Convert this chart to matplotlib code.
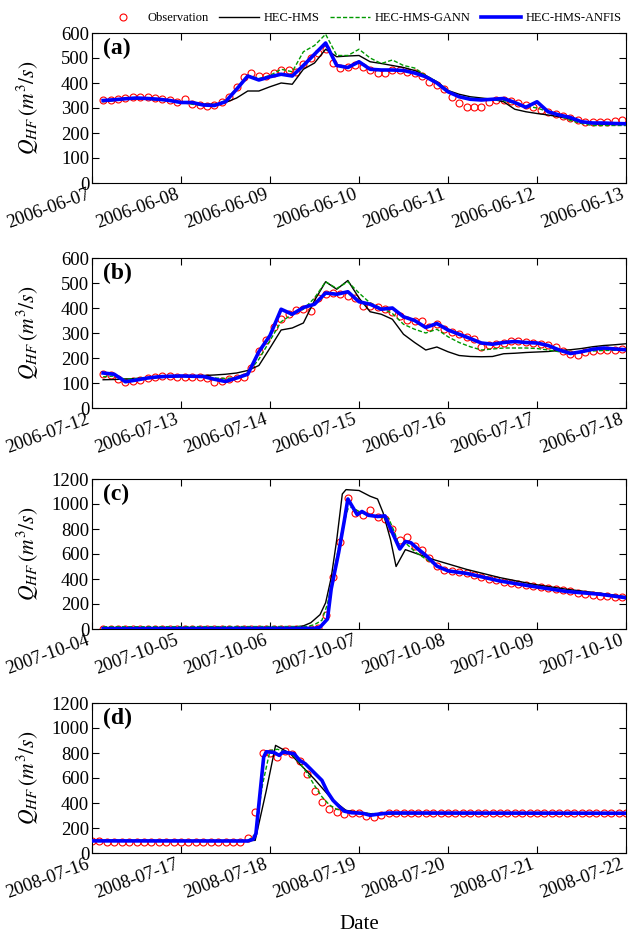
import numpy as np
import pandas as pd
import matplotlib
matplotlib.use('Agg')
import matplotlib.pyplot as plt
import matplotlib.dates as mdates

plt.rcParams['font.family'] = ['Liberation Serif', 'DejaVu Serif']
plt.rcParams['mathtext.fontset'] = 'stix'

# ---- (a) 2006-06-07 : obs every 2 h from 03:00, models every 3 h from 03:00
start_a = '2006-06-07'
obs_a = [330, 333, 336, 340, 342, 343, 342, 340, 336, 330,
         325, 335, 316, 310, 307, 310, 322, 345, 385, 425,
         438, 428, 428, 440, 450, 450, 442, 475, 500, 520,
         535, 478, 458, 462, 472, 465, 452, 440, 438, 450,
         452, 445, 438, 428, 405, 390, 375, 345, 320, 305,
         302, 303, 322, 330, 332, 328, 320, 312, 305, 290,
         282, 275, 268, 260, 250, 243, 243, 245, 245, 246,
         250]
hms_a = [325, 330, 335, 337, 336, 333, 330, 325, 320, 315,
         315, 322, 340, 368, 368, 385, 400, 395, 455, 480,
         535, 505, 508, 510, 485, 478, 470, 462, 450, 430,
         405, 370, 355, 345, 340, 335, 325, 295, 285, 278,
         272, 265, 255, 245, 237, 235, 235, 235]
gann_a = [330, 335, 338, 338, 335, 332, 328, 322, 315, 310,
          312, 330, 380, 430, 418, 430, 455, 445, 525, 550,
          595, 510, 510, 535, 500, 478, 492, 470, 460, 430,
          405, 370, 345, 340, 336, 333, 330, 318, 308, 300,
          285, 270, 250, 238, 230, 230, 230, 230]
anfis_a = [330, 333, 337, 340, 338, 335, 330, 322, 322, 312,
           310, 325, 375, 428, 412, 425, 435, 428, 470, 515,
           560, 470, 462, 485, 455, 452, 452, 450, 440, 425,
           400, 365, 345, 335, 332, 335, 338, 322, 303, 325,
           285, 272, 262, 245, 240, 240, 238, 237]

# ---- (b) 2006-07-12
start_b = '2006-07-12'
obs_b = [135, 132, 115, 103, 110, 113, 120, 125, 128, 127,
         126, 125, 125, 125, 122, 106, 108, 115, 120, 126,
         160, 230, 272, 325, 358, 376, 393, 396, 390, 440,
         455, 460, 457, 448, 440, 410, 410, 403, 395, 385,
         368, 352, 348, 347, 325, 335, 315, 305, 296, 285,
         276, 245, 252, 258, 262, 267, 268, 264, 260, 258,
         254, 245, 228, 215, 212, 225, 230, 233, 233, 234,
         236]
hms_b = [113, 114, 116, 118, 120, 122, 124, 126, 128, 130,
         132, 135, 140, 150, 170, 240, 312, 320, 340, 430,
         505, 475, 510, 440, 385, 375, 355, 295, 262, 232,
         244, 225, 210, 206, 205, 206, 217, 219, 222, 224,
         226, 230, 233, 238, 245, 250, 253, 257]
gann_b = [125, 128, 115, 118, 122, 125, 127, 127, 126, 126,
          120, 118, 122, 140, 195, 270, 345, 375, 395, 440,
          505, 478, 505, 460, 420, 400, 378, 335, 315, 300,
          315, 285, 262, 245, 232, 236, 240, 240, 240, 238,
          232, 225, 222, 225, 228, 230, 231, 231]
anfis_b = [140, 135, 105, 112, 120, 125, 127, 128, 127, 126,
           115, 106, 120, 135, 225, 290, 395, 375, 402, 415,
           460, 455, 465, 425, 415, 395, 400, 365, 350, 322,
           338, 312, 295, 278, 260, 255, 262, 266, 262, 260,
           250, 232, 218, 225, 235, 240, 236, 233]

# ---- (c) 2007-10-04 : models given as (hour, value) vertices
start_c = '2007-10-04'
obs_c = [4, 4, 4, 4, 4, 4, 4, 4, 4, 4,
         4, 4, 4, 4, 4, 4, 4, 4, 4, 4,
         4, 4, 4, 4, 4, 4, 4, 4, 4,
         10, 110, 420, 700, 1050, 930, 915, 950, 895, 878,
         800, 715, 740, 665, 630, 570, 505, 475, 465, 455,
         445, 430, 415, 400, 390, 380, 370, 362, 352, 344,
         335, 326, 318, 310, 302, 292, 284, 276, 267, 262,
         257, 253]
hms_c_h = [3, 54, 57, 59, 61.5, 63, 64.5, 66, 67.5, 68.5, 72, 75, 77, 78.5,
           80.5, 82, 84.5, 92, 101, 110, 119, 128, 137, 144]
hms_c = [10, 12, 25, 50, 115, 210, 410, 715, 1080, 1115, 1108, 1062, 1040, 930,
         715, 500, 635, 556, 477, 411, 358, 318, 286, 258]
gann_c_h = [3, 58, 60, 62, 63.5, 65.5, 67.5, 69, 70, 72, 74, 77, 80, 81.5, 83,
            84.5, 87, 90, 93, 96, 101, 110, 119, 128, 137, 144]
gann_c = [18, 20, 35, 70, 200, 500, 800, 960, 975, 940, 915, 895, 885, 780, 650,
          690, 620, 560, 505, 470, 450, 390, 345, 305, 275, 255]
anfis_c_h = [3, 60, 61.5, 63.5, 64.5, 66.5, 68, 69, 70, 71.5, 72.8, 74.5, 77, 79,
             81, 83, 84.5, 86, 87.5, 90, 93, 96, 101, 110, 119, 128, 137, 144]
anfis_c = [3, 5, 15, 80, 320, 610, 860, 1040, 990, 915, 940, 910, 900, 905,
           770, 640, 700, 690, 650, 590, 503, 465, 445, 384, 340, 300, 278, 250]

# ---- (d) 2008-07-16 : obs every 2 h from 00:00
start_d = '2008-07-16'
obs_d = [95, 93, 92, 92, 91, 91, 90, 90, 90, 90, 90, 89, 89, 89, 88, 88, 88, 88, 88, 88, 90,
         120, 330, 800, 800, 770, 815, 790, 740, 630, 500, 410, 350, 325, 315, 318, 320, 300,
         290, 305, 318,
         318, 318, 318, 318, 318, 318, 318, 318, 318, 318, 318, 318, 318, 318, 318, 318,
         318, 318, 318, 318, 318, 318, 318, 318, 318, 318, 318, 318, 318, 318, 318, 318]
hms_d_h = [0, 40, 44, 47, 49.5, 52, 53.5, 56, 60, 65, 68.5, 74, 78, 84, 144]
hms_d = [100, 98, 101, 500, 861, 820, 794, 714, 590, 421, 341, 315, 310, 315, 315]
gann_d_h = [0, 42, 44, 46, 48, 50, 52, 54, 56, 58, 60, 62, 64, 66, 68, 72, 76, 144]
gann_d = [95, 95, 150, 550, 820, 830, 810, 790, 720, 640, 540, 450, 385, 350, 335, 320, 315, 318]
anfis_d_h = [0, 42, 43.5, 44.2, 46.3, 47, 49, 50.5, 51.5, 54.5, 56, 57.5, 59, 60, 62,
             63.5, 65, 66.8, 68, 70, 73, 75, 77, 80, 144]
anfis_d = [97, 96, 110, 155, 768, 810, 805, 781, 808, 794, 741, 714, 670, 640, 581,
           488, 421, 368, 335, 322, 318, 302, 310, 320, 318]

grid3 = 3 + 3 * np.arange(48)   # model time steps (h) for (a), (b)

styles = [dict(color='black', lw=1.0, label='HEC-HMS', zorder=3),
          dict(color='#009900', lw=1.0, ls=(0, (3, 1.5)), label='HEC-HMS-GANN', zorder=4),
          dict(color='blue', lw=2.6, label='HEC-HMS-ANFIS', zorder=5)]


def panel(ax, start, obs, obs_h0, models, ymax, ystep, tag):
    t0 = pd.Timestamp(start)
    t_obs = t0 + pd.to_timedelta(obs_h0 + 2 * np.arange(len(obs)), unit='h')
    ax.plot(t_obs, obs, 'o', mfc='none', mec='red', ms=5, mew=0.8,
            label='Observation', zorder=2)
    for (hrs, vals), kw in zip(models, styles):
        ax.plot(t0 + pd.to_timedelta(np.asarray(hrs, dtype=float), unit='h'), vals, **kw)
    ax.set_xlim(t0, t0 + pd.Timedelta(days=6))
    ax.set_ylim(0, ymax)
    ax.set_yticks(range(0, ymax + 1, ystep))
    ax.xaxis.set_major_locator(mdates.DayLocator())
    ax.xaxis.set_major_formatter(mdates.DateFormatter('%Y-%m-%d'))
    ax.tick_params(direction='in', top=True, right=True, length=5, labelsize=13.5)
    ax.tick_params(axis='y', pad=2)
    ax.tick_params(axis='x', pad=2)
    for lab in ax.get_xticklabels():
        lab.set_rotation(20)
        lab.set_ha('right')
    ax.set_ylabel(r'$Q_{HF}\,(m^3/s)$', fontsize=15.5)
    ax.yaxis.set_label_coords(-0.095, 0.5)
    ax.text(0.02, 0.97, tag, transform=ax.transAxes, fontsize=17,
            fontweight='bold', va='top')


fig = plt.figure(figsize=(6.3, 9.38), dpi=100)
H = 938.0
W = 630.0
left, width = 92 / W, 534 / W
tops = [33, 258, 479, 703]
axes = [fig.add_axes([left, 1 - (t + 150) / H, width, 150 / H]) for t in tops]

panel(axes[0], start_a, obs_a, 3,
      [(grid3, hms_a), (grid3, gann_a), (grid3, anfis_a)], 600, 100, '(a)')
panel(axes[1], start_b, obs_b, 3,
      [(grid3, hms_b), (grid3, gann_b), (grid3, anfis_b)], 600, 100, '(b)')
panel(axes[2], start_c, obs_c, 3,
      [(hms_c_h, hms_c), (gann_c_h, gann_c), (anfis_c_h, anfis_c)], 1200, 200, '(c)')
panel(axes[3], start_d, obs_d, 0,
      [(hms_d_h, hms_d), (gann_d_h, gann_d), (anfis_d_h, anfis_d)], 1200, 200, '(d)')

handles, labels = axes[0].get_legend_handles_labels()
fig.legend(handles, labels, loc='center', bbox_to_anchor=(362 / W, 1 - 18 / H), ncol=4,
           frameon=False, fontsize=9, handlelength=3.2, columnspacing=0.8,
           handletextpad=0.4)
fig.text(359 / W, 1 - 924 / H, 'Date', ha='center', va='center', fontsize=15)

fig.savefig('out.png', dpi=100)
